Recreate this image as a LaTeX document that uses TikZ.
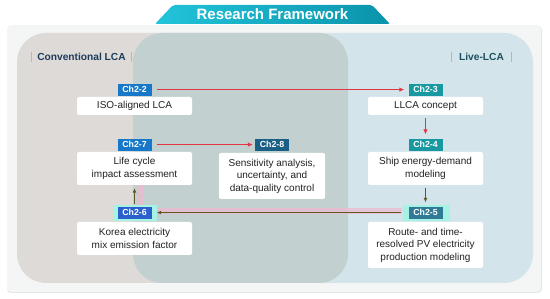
\documentclass[tikz,border=0pt]{standalone}
\usepackage{fontspec}
\setmainfont{Liberation Sans}
\usetikzlibrary{calc}
\usetikzlibrary{positioning}
\usetikzlibrary{arrows.meta}

\definecolor{panelgray}{HTML}{F4F5F5}
\definecolor{panelshade}{HTML}{E4E7E7}
\definecolor{convgray}{HTML}{DEDAD7}
\definecolor{liveblue}{HTML}{D3E5EA}
\definecolor{overlapgray}{HTML}{C2D1CF}
\definecolor{bannerleft}{HTML}{22C4DA}
\definecolor{bannerright}{HTML}{0B93AB}
\definecolor{convtext}{HTML}{1D3B5C}
\definecolor{livetext}{HTML}{1C4F5F}
\definecolor{barcolor}{HTML}{B4B6B8}
\definecolor{boxtext}{HTML}{222222}
\definecolor{tagblue}{HTML}{1777C8}
\definecolor{tagroyal}{HTML}{2A5FCC}
\definecolor{tagteal}{HTML}{1898A0}
\definecolor{tagsteel}{HTML}{2F7A95}
\definecolor{tagnavy}{HTML}{1A5F86}
\definecolor{tagglow}{HTML}{A6F2E4}
\definecolor{arrowred}{HTML}{E23444}
\definecolor{arrowolive}{HTML}{5C5A26}
\definecolor{bandpink}{HTML}{F2B6D0}

\begin{document}
\begin{tikzpicture}[x=1pt, y=-1pt,
  box/.style={fill=white, rounded corners=2pt, minimum width=115pt, inner sep=2pt,
    align=center, text=boxtext, font=\fontsize{10}{12.5}\selectfont},
  tag/.style={minimum width=34pt, minimum height=12pt, inner sep=0pt,
    text=white, font=\fontsize{8.8}{10}\selectfont\bfseries},
  section/.style={inner sep=3pt, font=\fontsize{10.2}{12}\selectfont\bfseries},
  sepbar/.style={draw=barcolor, line width=0.8pt},
  redarrow/.style={draw=arrowred, line width=1.1pt, -{Latex[length=5pt,width=4.5pt]}},
  olivearrow/.style={draw=arrowolive, line width=1pt, -{Latex[length=4.5pt,width=4pt]}},
  pinkband/.style={draw=bandpink, line width=6pt, opacity=0.7}
]
  \useasboundingbox (0,0) rectangle (550,299);

  % panel and the two regions
  \fill[panelshade, rounded corners=4pt] (7,26) rectangle (542,293);
  \fill[panelgray, rounded corners=4pt] (7,25) rectangle (541,292);
  \fill[convgray, rounded corners=29pt] (17,33) rectangle (348,283);
  \fill[liveblue, rounded corners=29pt] (133,33) rectangle (533,283);
  \begin{scope}
    \clip[rounded corners=29pt] (17,33) rectangle (348,283);
    \fill[overlapgray, rounded corners=29pt] (133,33) rectangle (533,283);
  \end{scope}

  % title banner
  \shade[left color=bannerleft, right color=bannerright, rounded corners=2pt]
    (155,24) -- (173,5) -- (372,5) -- (390,24) -- cycle;
  \node[text=white, font=\fontsize{15}{16}\selectfont\bfseries] (title) at (272.5,14.5) {Research Framework};

  % section labels
  \node[section, text=convtext] (conv) at (81.5,57) {Conventional LCA};
  \draw[sepbar] ($(conv.west)+(-3,-5)$) -- ($(conv.west)+(-3,5)$);
  \draw[sepbar] ($(conv.east)+(3,-5)$) -- ($(conv.east)+(3,5)$);
  \node[section, text=livetext] (live) at (481.5,57) {Live-LCA};
  \draw[sepbar] ($(live.west)+(-5,-5)$) -- ($(live.west)+(-5,5)$);
  \draw[sepbar] ($(live.east)+(4,-5)$) -- ($(live.east)+(4,5)$);

  % content boxes
  \node[box, minimum height=18pt] (iso) at (134.5,106) {ISO-aligned LCA};
  \node[box, minimum height=18pt] (llca) at (425.5,106) {LLCA concept};
  \node[box, minimum height=33pt] (lca) at (134.5,168.5) {Life cycle\\impact assessment};
  \node[box, minimum height=33pt] (ship) at (425.5,168.5) {Ship energy-demand\\modeling};
  \node[box, minimum height=46pt, minimum width=106pt] (sens) at (272,176)
    {Sensitivity analysis,\\uncertainty, and\\data-quality control};
  \node[box, minimum height=33pt] (korea) at (134.5,238.5) {Korea electricity\\mix emission factor};
  \node[box, minimum height=46pt] (route) at (425.5,245)
    {Route- and time-\\resolved PV electricity\\production modeling};

  % feedback band and glows behind the lower tags
  \draw[pinkband] ($(route.north)+(-24,-11)$) -| ($(lca.south)+(5,0)$);
  \fill[tagglow] ($(korea.north)+(-22,-1)$) rectangle ($(korea.north)+(22,-17)$);
  \fill[tagglow] ($(route.north)+(-23,-1)$) rectangle ($(route.north)+(24,-17)$);

  % chapter tags
  \node[tag, fill=tagblue, above=1pt of iso] (t2) {Ch2-2};
  \node[tag, fill=tagteal, above=1pt of llca] (t3) {Ch2-3};
  \node[tag, fill=tagblue, above=1pt of lca] (t7) {Ch2-7};
  \node[tag, fill=tagteal, above=1pt of ship] (t4) {Ch2-4};
  \node[tag, fill=tagnavy, above=2pt of sens] (t8) {Ch2-8};
  \node[tag, fill=tagroyal, above=3pt of korea] (t6) {Ch2-6};
  \node[tag, fill=tagsteel, above=3pt of route] (t5) {Ch2-5};

  % connectors
  \draw[redarrow, shorten <=5pt, shorten >=4pt] (t2.east) -- (t3.west);
  \draw[redarrow, shorten <=3pt, shorten >=4pt] (llca.south) -- (t4.north);
  \draw[redarrow, shorten <=5pt, shorten >=2pt] (t7.east) -- (t8.west);
  \draw[olivearrow, shorten <=3pt, shorten >=4pt] (ship.south) -- (t5.north);
  \draw[olivearrow, shorten <=7pt, shorten >=5pt] (t5.west) -- (t6.east);
  \draw[olivearrow, shorten <=2pt, shorten >=3pt] (t6.north) -- (lca.south);
\end{tikzpicture}
\end{document}
